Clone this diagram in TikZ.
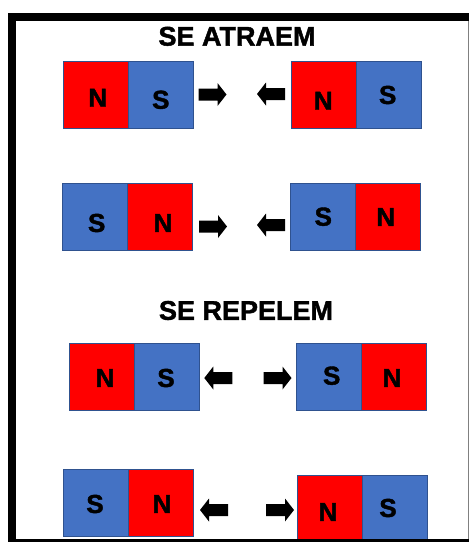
\documentclass[tikz,border=0pt]{standalone}
\usepackage{fontspec}
\setmainfont{Liberation Sans}[BoldFeatures={FakeBold=1.6}]
\definecolor{magred}{HTML}{FF0000}
\definecolor{magblue}{HTML}{4472C4}
\definecolor{magline}{HTML}{2F528F}
\tikzset{
  half/.style={draw=magline, line width=0.8pt, minimum width=65pt, minimum height=67pt, inner sep=0pt, outer sep=0pt},
  northpole/.style={half, fill=magred},
  southpole/.style={half, fill=magblue},
  letter/.style={inner sep=0pt, font=\fontsize{26}{26}\selectfont\bfseries},
  title/.style={inner sep=0pt, font=\fontsize{27}{27}\selectfont\bfseries},
  rarrow/.pic={\fill[black] (-14,-6) -- (5,-6) -- (5,-11.5) -- (14,0) -- (5,11.5) -- (5,6) -- (-14,6) -- cycle;},
  larrow/.pic={\fill[black] (14,-6) -- (-5,-6) -- (-5,-11.5) -- (-14,0) -- (-5,11.5) -- (-5,6) -- (14,6) -- cycle;}
}
\begin{document}
\begin{tikzpicture}[x=1pt,y=-1pt]
\useasboundingbox (0,0) rectangle (469,542);
\fill[white] (0,0) rectangle (469,542);

% titles
\node[title] (t1) at (237,36.3) {SE ATRAEM};
\node[title] (t2) at (246,310.5) {SE REPELEM};

% row 1
\node[northpole] (r1an) at (95.5,94.5) {};
\node[southpole] (r1as) at (160.5,94.5) {};
\node[letter] (r1anl) at (97.7,97.8) {N};
\node[letter] (r1asl) at (160.8,99.8) {S};
\node[northpole] (r1bn) at (323.5,94.5) {};
\node[southpole] (r1bs) at (388.5,94.5) {};
\node[letter] (r1bnl) at (323.3,100.8) {N};
\node[letter] (r1bsl) at (387.7,95) {S};
\pic at (212.5,94.5) {rarrow};
\pic at (271,94) {larrow};

% row 2
\node[southpole] (r2as) at (95.3,217.3) {};
\node[northpole] (r2an) at (160.3,217.3) {};
\node[letter] (r2asl) at (96.7,223) {S};
\node[letter] (r2anl) at (163,223) {N};
\node[southpole] (r2bs) at (323.3,217.3) {};
\node[northpole] (r2bn) at (388.3,217.3) {};
\node[letter] (r2bsl) at (323.3,216.7) {S};
\node[letter] (r2bnl) at (385.7,217) {N};
\pic at (213,226.5) {rarrow};
\pic at (271,225) {larrow};

% row 3
\node[northpole] (r3an) at (101.8,377) {};
\node[southpole] (r3as) at (166.8,377) {};
\node[letter] (r3anl) at (105,378) {N};
\node[letter] (r3asl) at (166,378) {S};
\node[southpole] (r3bs) at (329,377) {};
\node[northpole] (r3bn) at (393.7,377) {};
\node[letter] (r3bsl) at (331.7,375.7) {S};
\node[letter] (r3bnl) at (392,378) {N};
\pic at (218.3,378) {larrow};
\pic at (277.5,378) {rarrow};

% row 4
\node[southpole] (r4as) at (95.5,502.5) {};
\node[northpole] (r4an) at (160.5,502.5) {};
\node[letter] (r4asl) at (95,504) {S};
\node[letter] (r4anl) at (162,504) {N};
\node[northpole] (r4bn) at (329.5,508.5) {};
\node[southpole] (r4bs) at (394.5,508.5) {};
\node[letter] (r4bnl) at (328,512) {N};
\node[letter] (r4bsl) at (388,508) {S};
\pic at (214,510) {larrow};
\pic at (280,510) {rarrow};

% frame
\fill[black] (7.5,13.3) rectangle (16,542);
\fill[black] (7.5,13.3) rectangle (468.5,21.3);
\fill[black] (7.5,539.3) rectangle (468.5,542);
\draw[gray, line width=1pt] (468,21.3) -- (468,539.3);
\end{tikzpicture}
\end{document}
